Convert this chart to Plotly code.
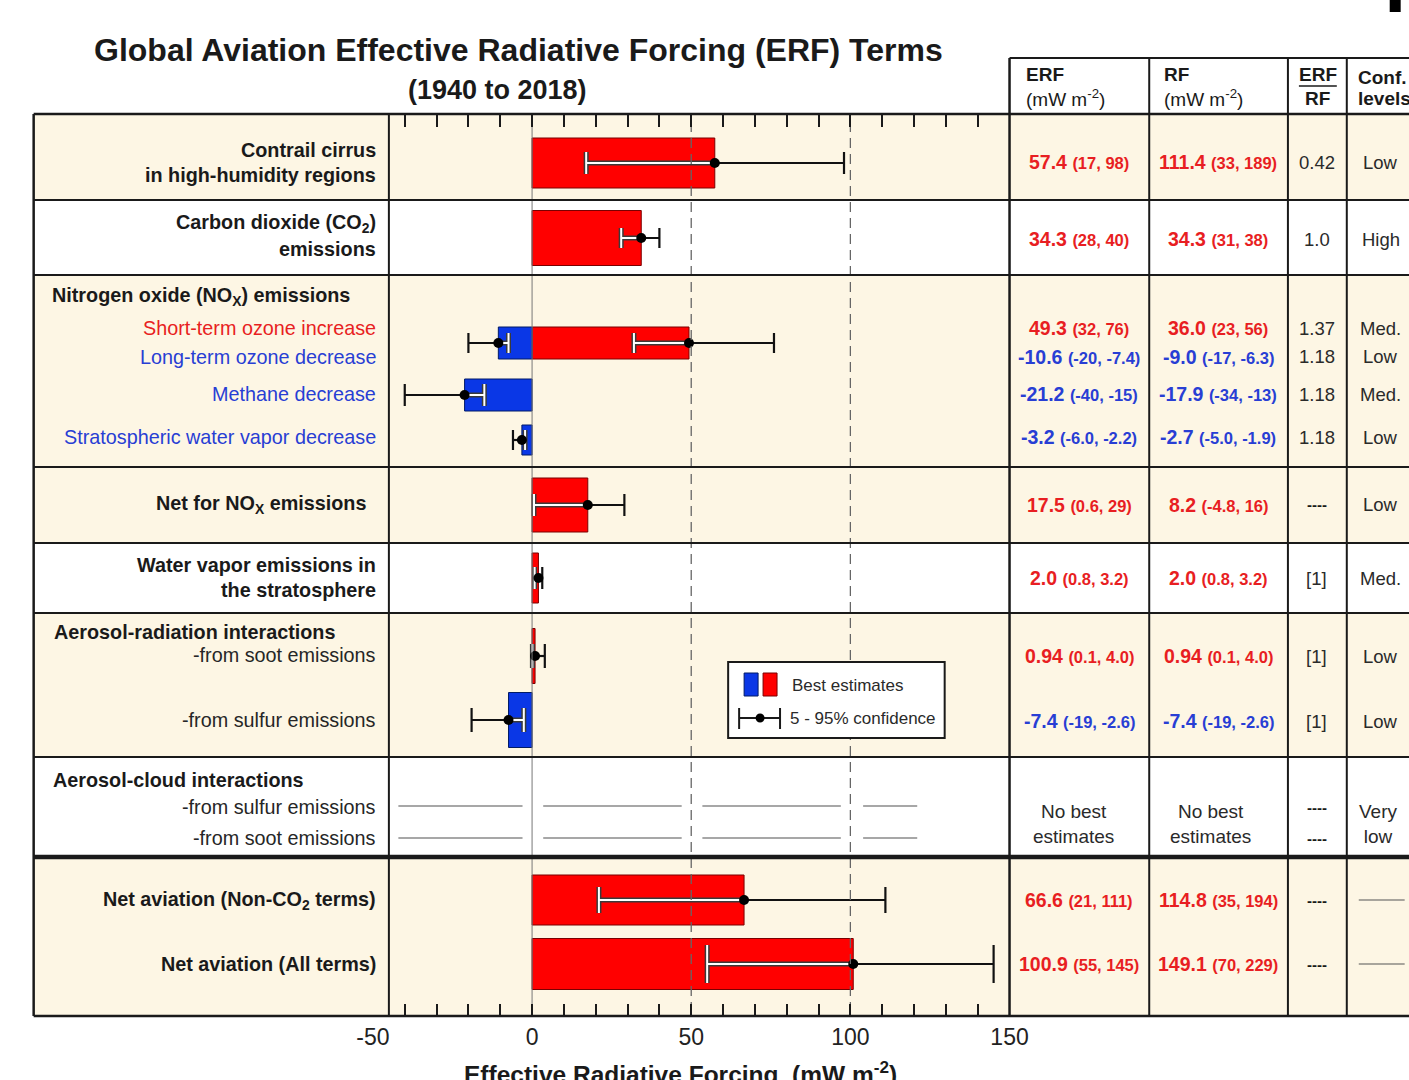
import plotly.graph_objects as go

W, H = 1409, 1080

# ---------------- data ----------------
terms = [
    "Contrail cirrus", "Carbon dioxide (CO2) emissions", "Short-term ozone increase",
    "Long-term ozone decrease", "Methane decrease", "Stratospheric water vapor decrease",
    "Net for NOx emissions", "Water vapor emissions in the stratosphere",
    "Aerosol-radiation: soot", "Aerosol-radiation: sulfur",
    "Net aviation (Non-CO2 terms)", "Net aviation (All terms)",
]
erf_best = [57.4, 34.3, 49.3, -10.6, -21.2, -3.2, 17.5, 2.0, 0.94, -7.4, 66.6, 100.9]
erf_low = [17, 28, 32, -20, -40, -6.0, 0.6, 0.8, 0.1, -19, 21, 55]
erf_high = [98, 40, 76, -7.4, -15, -2.2, 29, 3.2, 4.0, -2.6, 111, 145]
rf_best = [111.4, 34.3, 36.0, -9.0, -17.9, -2.7, 8.2, 2.0, 0.94, -7.4, 114.8, 149.1]
rf_low = [33, 31, 23, -17, -34, -5.0, -4.8, 0.8, 0.1, -19, 35, 70]
rf_high = [189, 38, 56, -6.3, -13, -1.9, 16, 3.2, 4.0, -2.6, 194, 229]
erf_rf_ratio = ["0.42", "1.0", "1.37", "1.18", "1.18", "1.18", "----", "[1]", "[1]", "[1]", "----", "----"]
confidence = ["Low", "High", "Med.", "Low", "Med.", "Low", "Low", "Med.", "Low", "Low", None, None]

# aerosol-cloud interactions: no best estimate, drawn as broken placeholder lines
aci_segments = [(-42, -3), (3.5, 47), (53.5, 97), (104, 121)]

x_ticks_major = [-50, 0, 50, 100, 150]
x_ticks_top = list(range(-40, 150, 10))

# ---------------- layout helpers (pixel rows / columns) ----------------
bar_y = [163, 238, 343, 343, 395, 440, 505, 578, 656, 720, 900, 964]
bar_h = [50, 55, 32, 32, 32, 30, 54, 50, 55, 55, 50, 51]
cap_half = [11, 10, 10, 10, 11, 10, 11, 11, 12, 12, 13, 19]
table_y = [162, 239, 328, 357, 394, 437, 505, 578, 656, 721, 900, 964]
aci_y = [806, 838]

FONT = "Liberation Sans, Arial, Helvetica, sans-serif"
RED = "#ff0000"
BLUE = "#0a37e6"
RED_TXT = "rgb(232,30,34)"
BLUE_TXT = "rgb(40,62,212)"
CREAM = "#fdf6e4"
INK = "#1a1a1a"

# horizontal pixel position -> paper fraction
X_ORIGIN, X_SPAN = 15.3, 1376.0


def PX(x):
    return (x - X_ORIGIN) / X_SPAN


def PY(y):
    return 1 - y / H


fig = go.Figure()

# reference lines at 0, 50, 100
fig.add_trace(go.Scatter(
    x=[0, 0], y=[115, 1016], mode="lines", xaxis="x2", yaxis="y",
    line=dict(color="#777777", width=1), hoverinfo="skip", showlegend=False))
fig.add_trace(go.Scatter(
    x=[50, 50, None, 100, 100], y=[122, 1016, None, 122, 1016], mode="lines",
    xaxis="x2", yaxis="y",
    line=dict(color="#666666", width=1.3, dash="10px,6px"), hoverinfo="skip", showlegend=False))

# placeholder lines for aerosol-cloud interactions
gx, gy = [], []
for yy in aci_y:
    for a, b in aci_segments:
        gx += [a, b, None]
        gy += [yy, yy, None]
fig.add_trace(go.Scatter(x=gx, y=gy, mode="lines", line=dict(color="#8a8a8a", width=1.6),
                         hoverinfo="skip", showlegend=False))

# bars
colors = [RED if v >= 0 else BLUE for v in erf_best]
edge = ["#7a0000" if v >= 0 else "#001a66" for v in erf_best]
fig.add_trace(go.Bar(
    x=erf_best, y=bar_y, width=bar_h, base=0, orientation="h",
    marker=dict(color=colors, line=dict(color=edge, width=1)),
    hoverinfo="skip", showlegend=False))

# 5-95% whiskers: black outside the bar, double line where it runs inside the bar
bx, by, dx, dy = [], [], [], []
for v, lo, hi, yc, c in zip(erf_best, erf_low, erf_high, bar_y, cap_half):
    b0, b1 = min(0, v), max(0, v)
    i0, i1 = max(lo, b0), min(hi, b1)
    if i1 > i0:
        dx += [i0, i1, None]
        dy += [yc, yc, None]
    if lo < b0:
        bx += [lo, min(hi, b0), None]
        by += [yc, yc, None]
    if hi > b1:
        bx += [max(lo, b1), hi, None]
        by += [yc, yc, None]
    for e in (lo, hi):
        if b0 < e < b1:
            dx += [e, e, None]
            dy += [yc - c, yc + c, None]
        else:
            bx += [e, e, None]
            by += [yc - c, yc + c, None]

fig.add_trace(go.Scatter(x=dx, y=dy, mode="lines", line=dict(color="#3a3a3a", width=5),
                         hoverinfo="skip", showlegend=False))
fig.add_trace(go.Scatter(x=dx, y=dy, mode="lines", line=dict(color="#ffffff", width=2),
                         hoverinfo="skip", showlegend=False))
fig.add_trace(go.Scatter(x=bx, y=by, mode="lines", line=dict(color="#111111", width=2.2),
                         hoverinfo="skip", showlegend=False))
fig.add_trace(go.Scatter(x=erf_best, y=bar_y, mode="markers",
                         marker=dict(color="#000000", size=10),
                         hoverinfo="skip", showlegend=False))

shapes = []
RIGHT = 1412


def rect(x0, y0, x1, y1, fill, layer="below", line=None):
    shapes.append(dict(type="rect", xref="paper", yref="paper",
                       x0=PX(x0), x1=PX(x1), y0=PY(y0), y1=PY(y1),
                       fillcolor=fill, line=line or dict(width=0), layer=layer))


def hline(x0, x1, y, w=2, color=INK, layer="above"):
    shapes.append(dict(type="line", xref="paper", yref="paper",
                       x0=PX(x0), x1=PX(x1), y0=PY(y), y1=PY(y),
                       line=dict(color=color, width=w), layer=layer))


def vline(x, y0, y1, w=2, color=INK, layer="above"):
    shapes.append(dict(type="line", xref="paper", yref="paper",
                       x0=PX(x), x1=PX(x), y0=PY(y0), y1=PY(y1),
                       line=dict(color=color, width=w), layer=layer))


# row backgrounds
bands = [(115, 200, CREAM), (200, 275, "#ffffff"), (275, 467, CREAM), (467, 543, CREAM),
         (543, 613, "#ffffff"), (613, 757, CREAM), (757, 857, "#ffffff"), (857, 1016, CREAM)]
for y0, y1, col in bands:
    rect(32, y0, RIGHT, y1, col)

# grid borders
hline(1010, RIGHT, 58, 2)
hline(32, RIGHT, 114, 2.5)
for yy in [200, 275, 467, 543, 613, 757]:
    hline(32, RIGHT, yy, 2)
hline(32, RIGHT, 857, 4.5)
hline(32, RIGHT, 1016, 2.5)
vline(32, 114, 1016, 2.5)
vline(388, 114, 1016, 2)
vline(1010, 58, 1016, 2.5)
for xx in [1150, 1289, 1348]:
    vline(xx, 58, 1016, 2)

# ERF/RF fraction bar and confidence dashes
hline(1300, 1338, 86, 1.5)
for yy in [900, 964]:
    hline(1360, 1406, yy, 1.2, "#555555")

# legend box
rect(728, 662, 945, 738, "#ffffff", layer="above", line=dict(color=INK, width=2))
rect(744, 673, 758, 696, BLUE, layer="above", line=dict(color="#001a66", width=1))
rect(763, 673, 777, 696, RED, layer="above", line=dict(color="#7a0000", width=1))
hline(739, 780, 718, 2)
vline(739, 708, 729, 2)
vline(780, 708, 729, 2)
shapes.append(dict(type="circle", xref="paper", yref="paper",
                   x0=PX(755.5), x1=PX(764.5), y0=PY(722.5), y1=PY(713.5),
                   fillcolor="#000000", line=dict(width=0), layer="above"))

# small dark mark at the top right
rect(1391, 0, 1402, 12, "#000000", layer="above")

annotations = []


def text(s, x, y, size=18, color=INK, anchor="center", yanchor="middle", bold=False):
    annotations.append(dict(
        text=f"<b>{s}</b>" if bold else s, x=PX(x), y=PY(y), xref="paper", yref="paper",
        xanchor=anchor, yanchor=yanchor, showarrow=False,
        font=dict(family=FONT, size=size, color=color)))


# title
text("Global Aviation Effective Radiative Forcing (ERF) Terms", 518, 50, 32, INK, bold=True)
text("(1940 to 2018)", 497, 90, 27, INK, bold=True)

# left-hand labels
left_labels = [
    ("Contrail cirrus", 377, 150, "right", True, INK),
    ("in high-humidity regions", 377, 175, "right", True, INK),
    ("Carbon dioxide (CO<sub>2</sub>)", 377, 224, "right", True, INK),
    ("emissions", 377, 249, "right", True, INK),
    ("Nitrogen oxide (NO<sub>X</sub>) emissions", 48, 296, "left", True, INK),
    ("Short-term ozone increase", 377, 328, "right", False, RED_TXT),
    ("Long-term ozone decrease", 377, 357, "right", False, BLUE_TXT),
    ("Methane decrease", 377, 394, "right", False, BLUE_TXT),
    ("Stratospheric water vapor decrease", 377, 437, "right", False, BLUE_TXT),
    ("Net for NO<sub>X</sub> emissions", 367, 504, "right", True, INK),
    ("Water vapor emissions in", 377, 565, "right", True, INK),
    ("the stratosphere", 377, 590, "right", True, INK),
    ("Aerosol-radiation interactions", 50, 632, "left", True, INK),
    ("-from soot emissions", 377, 655, "right", False, "#262626"),
    ("-from sulfur emissions", 377, 720, "right", False, "#262626"),
    ("Aerosol-cloud interactions", 49, 780, "left", True, INK),
    ("-from sulfur emissions", 377, 807, "right", False, "#262626"),
    ("-from soot emissions", 377, 838, "right", False, "#262626"),
    ("Net aviation (Non-CO<sub>2</sub> terms)", 377, 900, "right", True, INK),
    ("Net aviation (All terms)", 377, 964, "right", True, INK),
]
for s, x, y, anc, b, col in left_labels:
    text(s, x, y, 19.8, col, anchor=anc, bold=b)

# table header
text("ERF", 1025, 75, 19, INK, anchor="left", bold=True)
text("(mW m<sup>-2</sup>)", 1025, 98, 19, INK, anchor="left")
text("RF", 1163, 75, 19, INK, anchor="left", bold=True)
text("(mW m<sup>-2</sup>)", 1163, 98, 19, INK, anchor="left")
text("ERF", 1319, 75, 19, INK, bold=True)
text("RF", 1319, 98, 19, INK, bold=True)
text("Conf.", 1357, 77, 19, INK, anchor="left", bold=True)
text("levels", 1357, 98, 19, INK, anchor="left", bold=True)


def value_cell(best, lo, hi):
    return (f"<b>{best}</b> <span style='font-size:16.5px'><b>({lo}, {hi})</b></span>")


for i in range(len(terms)):
    col = RED_TXT if erf_best[i] >= 0 else BLUE_TXT
    y = table_y[i]
    text(value_cell(erf_best[i], erf_low[i], erf_high[i]), 1080, y, 19.5, col)
    text(value_cell(rf_best[i], rf_low[i], rf_high[i]), 1219, y, 19.5, col)
    r = erf_rf_ratio[i]
    if r == "----":
        text(r, 1318, y, 15, INK, bold=True)
    else:
        text(r, 1318, y, 18.5, "#2a2a2a")
    if confidence[i]:
        text(confidence[i], 1382, y, 18.5, "#2a2a2a")

# aerosol-cloud row of the table
text("No best<br>estimates", 1074, 824, 19, "#2a2a2a")
text("No best<br>estimates", 1211, 824, 19, "#2a2a2a")
text("----", 1318, 807, 15, INK, bold=True)
text("----", 1318, 838, 15, INK, bold=True)
text("Very<br>low", 1380, 824, 19, "#2a2a2a")

# legend text
text("Best estimates", 790, 685, 17, "#2a2a2a", anchor="left")
text("5 - 95% confidence", 788, 718, 17, "#2a2a2a", anchor="left")

# x-axis title
text("Effective Radiative Forcing  (mW m<sup>-2</sup>)", 680, 1072, 24.5, INK, bold=True)

fig.update_layout(
    width=W, height=H,
    margin=dict(l=0, r=0, t=0, b=0),
    paper_bgcolor="#ffffff", plot_bgcolor="rgba(0,0,0,0)",
    barmode="overlay", showlegend=False,
    font=dict(family=FONT, color=INK),
    xaxis=dict(
        domain=[PX(372), PX(1010)], range=[-50, 150], anchor="y",
        tickmode="array", tickvals=x_ticks_major, ticktext=[str(t) for t in x_ticks_major],
        ticks="inside", ticklen=12, tickwidth=1.6, tickcolor=INK,
        minor=dict(dtick=10, tick0=0, ticks="inside", ticklen=12, tickwidth=1.6,
                   tickcolor=INK, showgrid=False),
        tickfont=dict(family=FONT, size=23, color="#222222"),
        ticklabelstandoff=5,
        showgrid=False, zeroline=False, showline=False, fixedrange=True,
    ),
    xaxis2=dict(
        overlaying="x", matches="x", side="top", anchor="y",
        tickmode="array", tickvals=x_ticks_top, showticklabels=False,
        ticks="inside", ticklen=12, tickwidth=1.6, tickcolor=INK,
        showgrid=False, zeroline=False, showline=False,
    ),
    yaxis=dict(
        domain=[PY(1016), PY(115)], range=[1016, 115], visible=False,
        showgrid=False, zeroline=False, fixedrange=True,
    ),
    shapes=shapes, annotations=annotations,
)

fig.write_html("out.html")
